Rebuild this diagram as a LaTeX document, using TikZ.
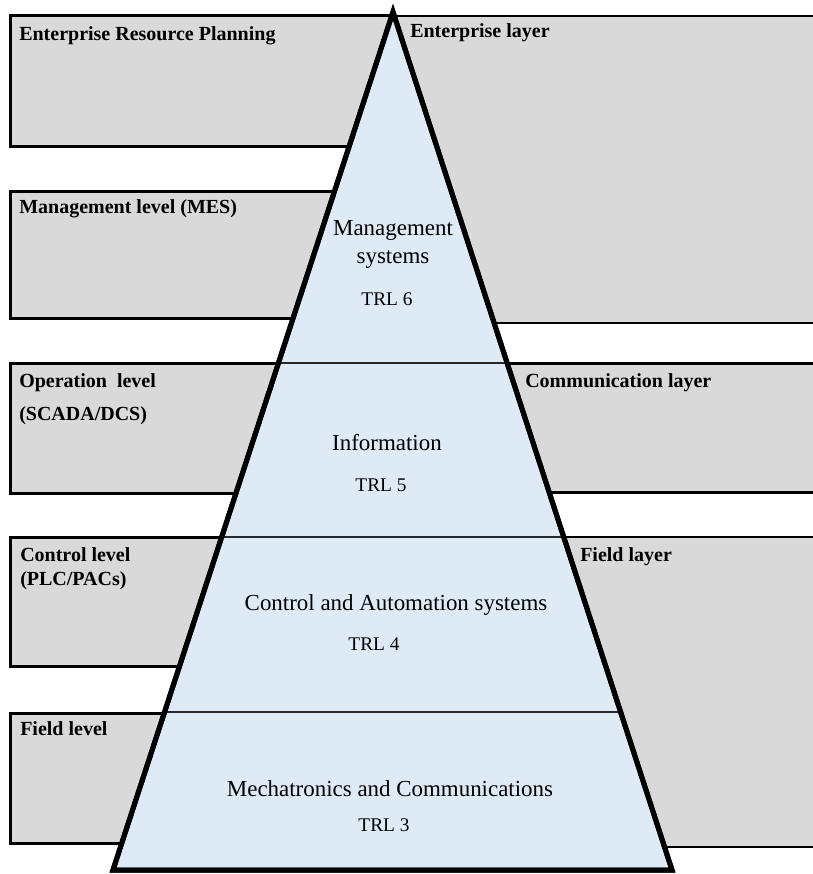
\documentclass[tikz,border=0pt]{standalone}
\usepackage{fontspec}
\setmainfont{Liberation Serif}
\usepackage{tikz}
\usetikzlibrary{calc}

\begin{document}
\begin{tikzpicture}[x=0.75pt,y=0.75pt,yscale=-1,xscale=1,
  levelbox/.style={draw=black,fill={rgb, 255:red, 217; green, 217; blue, 217 },line width=2.25pt},
  layerbox/.style={draw=black,fill={rgb, 255:red, 217; green, 217; blue, 217 },line width=1.8pt},
  boxlabel/.style={anchor=base west,inner sep=0.75pt,font=\fontsize{15}{17}\selectfont\bfseries},
  pyrlabel/.style={anchor=base,inner sep=0.75pt,font=\fontsize{17.2}{20}\selectfont},
  trllabel/.style={anchor=base,inner sep=0.75pt,font=\fontsize{14.5}{17}\selectfont}]
\useasboundingbox (0,0) rectangle (813,874);

%Shape: Rectangle (left side levels)
\draw [levelbox] (10,16) rectangle (393,146);
\draw [levelbox] (10,191) rectangle (393,318);
\draw [levelbox] (10,363) rectangle (393,493);
\draw [levelbox] (10,537) rectangle (393,666);
\draw [levelbox] (10,713) rectangle (393,843);
%Shape: Rectangle (right side layers)
\draw [layerbox] (393,16) rectangle (820,323);
\draw [layerbox,line width=2.25pt] (393,363) rectangle (820,492);
\draw [layerbox] (393,537) rectangle (820,847);

%Shape: Triangle
\coordinate (apex) at (393,12);
\coordinate (bl) at (113,870);
\coordinate (br) at (672,870);
\draw [draw=black,fill={rgb, 255:red, 222; green, 234; blue, 246 },line width=3.75pt,line join=miter] (apex) -- (br) -- (bl) -- cycle;

%Straight Lines
\draw [color={rgb, 255:red, 40; green, 40; blue, 40 },line width=1.2pt] ($(apex)!0.409!(bl)$) -- ($(apex)!0.409!(br)$);
\draw [color={rgb, 255:red, 40; green, 40; blue, 40 },line width=1.2pt] ($(apex)!0.612!(bl)$) -- ($(apex)!0.612!(br)$);
\draw [color={rgb, 255:red, 40; green, 40; blue, 40 },line width=1.2pt] ($(apex)!0.816!(bl)$) -- ($(apex)!0.816!(br)$);
% redraw outline over the inner lines
\draw [line width=3.75pt,line join=miter] (apex) -- (br) -- (bl) -- cycle;

% Text Node
\node (erp) [boxlabel] at (18,41) {Enterprise Resource Planning};
% Text Node
\node (entlayer) [boxlabel] at (409,38) {Enterprise layer};
% Text Node
\node (mes) [boxlabel] at (18,213) {Management level (MES)};
% Text Node
\node (oplevel) [boxlabel] at (18,387) {Operation \ level};
% Text Node
\node (scada) [boxlabel] at (18,420) {(SCADA/DCS)};
% Text Node
\node (commlayer) [boxlabel] at (524,387) {Communication layer};
% Text Node
\node (ctrllevel) [boxlabel] at (19,561) {Control level};
% Text Node
\node (plc) [boxlabel] at (19,585) {(PLC/PACs)};
% Text Node
\node (fieldlevel) [boxlabel] at (19,735) {Field level};
% Text Node
\node (fieldlayer) [boxlabel] at (579,561) {Field layer};

% Text Node
\node (mgmt) [pyrlabel] at (393,235) {Management};
\node (mgmtsys) [pyrlabel] at (393,263) {systems};
\node (trlsix) [trllabel] at (387,305) {TRL 6};
% Text Node
\node (info) [pyrlabel] at (387,450) {Information};
\node (trlfive) [trllabel] at (381,491) {TRL 5};
% Text Node
\node (ctrl) [pyrlabel] at (396,610) {Control and Automation systems};
\node (trlfour) [trllabel] at (374,650) {TRL 4};
% Text Node
\node (mech) [pyrlabel] at (390,796) {Mechatronics and Communications};
\node (trlthree) [trllabel] at (384,831) {TRL 3};

\end{tikzpicture}
\end{document}
